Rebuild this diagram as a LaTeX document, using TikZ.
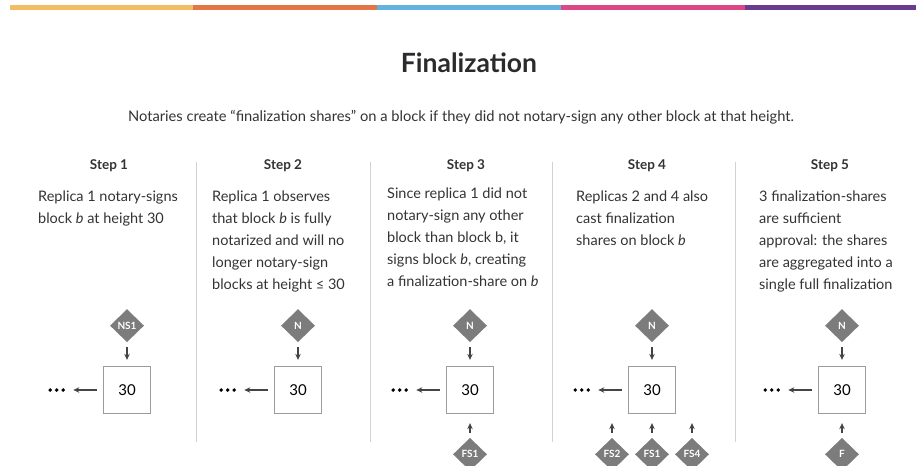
\documentclass[tikz,border=0pt]{standalone}
\usepackage{fontspec}
\setmainfont{Lato}
\usetikzlibrary{arrows.meta,positioning,shapes.geometric}
\definecolor{jaune}{HTML}{F1BE63}
\definecolor{orangee}{HTML}{E37546}
\definecolor{bleuciel}{HTML}{62B3E0}
\definecolor{rose}{HTML}{DC4786}
\definecolor{violette}{HTML}{6A3C91}
\definecolor{titre}{HTML}{2B2B2E}
\definecolor{texte}{HTML}{333336}
\definecolor{gris}{HTML}{7C7C7C}
\definecolor{grisclair}{HTML}{D2D2D2}
\definecolor{bord}{HTML}{9B9B9B}
\definecolor{grisfonce}{HTML}{444444}
\tikzset{
  losange/.style={diamond,fill=gris,text=white,font=\bfseries\fontsize{10}{11}\selectfont,
                  minimum width=34pt,minimum height=33pt,inner sep=0pt},
  bloc/.style={draw=bord,line width=1.3pt,minimum size=47pt,inner sep=0pt,
               font=\fontsize{15}{17}\selectfont,text=black},
  fleche/.style={-{Stealth[length=6pt,width=5.5pt]},line width=1.1pt,color=grisfonce},
  etape/.style={font=\bfseries\fontsize{13.5}{15}\selectfont,text=texte,anchor=base},
  explication/.style={font=\fontsize{14.5}{22}\selectfont,text=texte,align=left,
                      anchor=north west,inner sep=0pt},
  points/.style={minimum width=18pt,minimum height=4pt,inner sep=0pt},
  separation/.style={draw=grisclair,line width=0.8pt},
}

\begin{document}
\begin{tikzpicture}[x=1pt,y=-1pt,node distance=23.5pt]
  \useasboundingbox (0,0) rectangle (916,466);
  % bandeau de couleurs
  \foreach \a/\b/\couleur in {10/193/jaune,193/377/orangee,377/561/bleuciel,561/745/rose,745/916/violette}
    \fill[\couleur] (\a,5) rectangle (\b,10);
  \node[font=\bfseries\fontsize{26.5}{30}\selectfont,text=titre,anchor=base] (titre) at (469,72) {Finalization};
  \node[font=\fontsize{14.7}{16}\selectfont,text=texte,anchor=base] (intro) at (461,121)
    {Notaries create “finalization shares” on a block if they did not notary-sign any other block at that height.};
  % etapes
  \foreach \x/\n in {109/1,283/2,466/3,647/4,830/5} \node[etape] (etape\n) at (\x,169) {Step \n};
  \node[explication] (t1) at (38,190.5) {Replica 1 notary-signs\\block \textit{b} at height 30};
  \node[explication] (t2) at (212,190.5) {Replica 1 observes\\that block \textit{b} is fully\\notarized and will no\\longer notary-sign\\blocks at height ≤ 30};
  \node[explication] (t3) at (387,187.5) {Since replica 1 did not\\notary-sign any other\\block than block b, it\\signs block \textit{b}, creating\\a finalization-share on \textit{b}};
  \node[explication] (t4) at (576,190.5) {Replicas 2 and 4 also\\cast finalization\\shares on block \textit{b}};
  \node[explication] (t5) at (759,190.5) {3 finalization-shares\\are sufficient\\approval: the shares\\are aggregated into a\\single full finalization};
  \foreach \x in {196,370,552,735} \draw[separation] (\x,162) -- (\x,442);
  % blocs
  \foreach \x [count=\i] in {127,298,470,652,842} {
    \node[bloc] (b\i) at (\x,390) {30};
    \node[points,left=37pt of b\i] (p\i) {};
    \foreach \d in {-6.5,0,6.5} \fill[black] ([xshift=\d pt]p\i.center) circle (1.9pt);
    \draw[fleche,shorten <=6pt,shorten >=7.5pt] (b\i) -- (p\i);
  }
  \node[losange,above=of b1] (n1) {NS1};
  \foreach \i in {2,...,5} \node[losange,above=of b\i] (n\i) {N};
  \foreach \i in {1,...,5} \draw[fleche,shorten <=4.5pt,shorten >=6pt] (n\i) -- (b\i);
  \node[losange,below=of b3] (fs1c) {FS1};
  \node[losange,below=of b4] (fs1d) {FS1};
  \node[losange,left=5.6pt of fs1d] (fs2) {FS2};
  \node[losange,right=5.6pt of fs1d] (fs4) {FS4};
  \node[losange,below=of b5] (f) {F};
  \foreach \u/\v in {fs1c/b3,fs1d/b4,f/b5} \draw[fleche,shorten <=4.5pt,shorten >=9pt] (\u) -- (\v);
  \foreach \u in {fs2,fs4} \draw[fleche,shorten <=4.5pt,shorten >=9pt] (\u) -- (\u |- b4.south);
\end{tikzpicture}
\end{document}
